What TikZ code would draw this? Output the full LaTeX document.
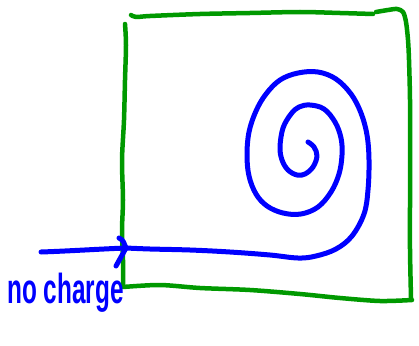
\documentclass[tikz,border=0pt]{standalone}
\usepackage{fontspec}
\setmainfont{Liberation Sans}
\begin{document}
\begin{tikzpicture}[x=1pt,y=-1pt]
      \tikzstyle{frame}=[draw=green!60!black,line width=4.5pt,line cap=round,line join=round]
      \tikzstyle{pen}=[draw=blue,line width=5pt,line cap=round,line join=round]
      \tikzstyle{note}=[text=blue,inner sep=0pt,font=\bfseries\fontsize{42}{42}\selectfont]
      \useasboundingbox (0,0) rectangle (419,345);
      % square
      \draw[frame] plot[smooth] coordinates {(125,24) (126,45) (125,80) (124,120) (122,160) (123,200) (122,230) (123,260) (123,287)}
        -- plot[smooth] coordinates {(123,287) (160,285) (200,288) (250,290) (300,294) (340,298) (380,301) (412,300)};
      \draw[frame] plot[smooth] coordinates {(131,15) (136,17) (150,16) (200,14) (250,13) (300,12) (340,13) (373,14)};
      \draw[frame] plot[smooth] coordinates {(376,12) (388,10) (397,9) (403,12) (406,22) (408,40) (409,60) (410,100) (410,150) (410,200) (410,250) (411,298)};
      % arrow in
      \coordinate (tail) at (41,252);
      \coordinate (tip) at (126,248);
      \draw[pen] (tail) .. controls (70,251) and (100,249) .. (tip);
      \draw[pen] (tip) ++(-7,-10) .. controls +(5,2) and +(-2,-4) .. (tip) -- ++(-10,18);
      % spiral
      \draw[pen] plot[smooth,tension=0.6] coordinates {(308,142) (314,147) (317,156) (313,167) (305,174) (297,175) (288,170) (282,160) (280,147) (283,128) (291,114) (299,107) (310,105) (324,109) (335,122) (341,138) (342,155) (339,174) (331,192) (318,207) (301,214) (283,213) (267,206) (256,194) (249,176) (247,155) (249,132) (256,111) (266,94) (280,80) (298,73) (318,72) (336,79) (351,94) (361,113) (367,135) (369,160) (368,190) (364,214) (352,236) (336,249) (316,256) (298,258) (270,255) (230,252) (190,250) (150,249) (126,248)};
      % label
      \node[note,anchor=base west] (nocharge) at (7,303) {\scalebox{0.58}[1]{no charge}};
\end{tikzpicture}
\end{document}
